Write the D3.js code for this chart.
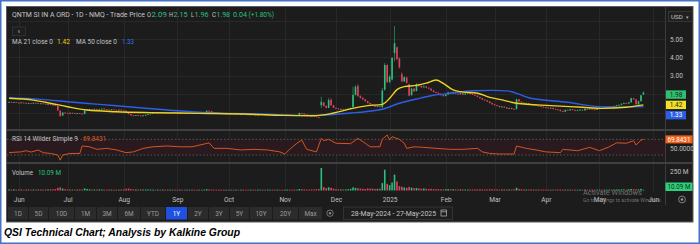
<!DOCTYPE html>
<html>
<head>
<meta charset="utf-8">
<title>QSI Technical Chart</title>
<style>
  body { margin: 0; background: #fff; }
  svg { display: block; font-family: Roboto, "Noto Sans", sans-serif; }
  .lbl { font-size: 6.6px; }
  .axis text { fill: #c0c0c0; font-size: 6.6px; font-family: Roboto, sans-serif; }
  .axis path, .axis line { display: none; }
  .btn text { fill: #9c9c9c; font-size: 6.4px; text-anchor: middle; }
</style>
</head>
<body>
<div id="chart"></div>
<script src="https://d3js.org/d3.v7.min.js"></script>
<script>
// daily candles, 28-May-2024 .. 27-May-2025 (trading-day index 0..260)
var opens = [
  1.56,1.58,1.55,1.57,1.54,1.52,1.55,1.53,1.51,1.52,
  1.50,1.53,1.51,1.49,1.50,1.48,1.46,1.47,1.43,1.40,
  1.36,1.10,0.84,1.00,0.98,0.96,0.99,0.97,0.95,0.97,
  0.94,0.93,1.12,1.15,1.18,1.16,1.20,1.17,1.19,1.22,
  1.18,1.16,1.14,1.17,1.15,1.13,1.16,1.12,1.10,1.02,
  0.92,0.85,0.83,0.86,0.84,0.82,0.85,0.88,0.93,0.95,
  0.97,0.96,0.98,0.97,0.99,0.97,0.96,0.98,1.00,0.98,
  0.97,0.99,0.98,0.96,0.97,0.99,0.98,0.97,0.96,0.98,
  0.97,0.99,1.10,1.08,1.03,1.00,0.98,0.97,0.96,0.95,
  0.96,0.94,0.95,0.93,0.94,0.92,0.93,0.91,0.90,0.88,
  0.90,0.89,0.87,0.89,0.91,0.90,0.88,0.89,0.90,0.88,
  0.87,0.89,0.88,0.86,0.87,0.89,0.88,0.86,0.85,0.87,
  0.98,0.95,0.90,0.86,0.84,0.83,0.80,0.76,1.40,1.55,
  1.36,1.26,1.70,1.40,1.26,1.22,1.18,1.20,1.17,1.19,
  1.21,1.30,1.96,2.45,1.90,1.80,1.72,1.62,1.52,1.45,
  1.38,1.32,1.35,1.30,2.25,3.59,2.66,2.80,4.24,4.55,
  3.95,3.10,2.70,2.90,2.55,1.95,2.30,2.18,2.55,2.45,
  2.38,2.42,2.35,2.30,2.20,2.12,2.08,2.02,1.95,1.90,
  1.98,2.10,2.05,2.12,2.03,2.00,2.06,1.98,2.04,2.08,
  2.01,1.97,1.92,1.85,1.78,1.70,1.66,1.60,1.52,1.45,
  1.40,1.36,1.30,1.33,1.28,1.22,1.25,1.20,1.19,1.72,
  1.60,1.55,1.50,1.52,1.46,1.42,1.45,1.38,1.36,1.32,
  1.30,1.27,1.24,1.26,1.20,1.17,1.15,1.08,1.05,1.15,
  1.12,1.18,1.14,1.10,1.13,1.16,1.12,1.20,1.18,1.22,
  1.17,1.15,1.19,1.24,1.21,1.26,1.30,1.33,1.30,1.36,
  1.40,1.42,1.48,1.52,1.50,1.56,1.78,1.72,1.45,1.62,2.09
];
var highs = [
  1.60,1.60,1.58,1.58,1.56,1.57,1.56,1.54,1.54,1.53,
  1.55,1.54,1.52,1.52,1.51,1.49,1.48,1.48,1.45,1.42,
  1.38,1.14,1.03,1.02,1.00,1.00,1.00,0.99,0.98,0.98,
  0.96,1.14,1.18,1.20,1.19,1.22,1.21,1.20,1.24,1.23,
  1.19,1.18,1.18,1.18,1.16,1.17,1.17,1.13,1.11,1.04,
  0.93,0.87,0.87,0.88,0.86,0.86,0.89,0.94,0.96,0.98,
  0.98,0.99,0.99,1.00,1.00,0.98,0.99,1.01,1.01,0.99,
  1.00,1.00,0.99,0.98,1.00,1.00,0.99,0.98,0.99,0.99,
  1.00,1.12,1.12,1.09,1.04,1.01,0.99,0.98,0.97,0.97,
  0.97,0.96,0.96,0.95,0.95,0.94,0.94,0.92,0.91,0.91,
  0.91,0.90,0.90,0.92,0.92,0.91,0.90,0.91,0.91,0.89,
  0.90,0.90,0.89,0.88,0.90,0.90,0.89,0.87,0.88,1.00,
  0.99,0.96,0.91,0.87,0.85,0.84,0.81,0.77,1.86,1.57,
  1.40,1.80,1.78,1.42,1.28,1.24,1.22,1.21,1.20,1.23,
  1.28,2.41,2.50,2.55,1.95,1.84,1.74,1.64,1.54,1.47,
  1.40,1.38,1.37,2.34,3.70,3.62,3.05,4.02,5.70,4.60,
  4.00,3.20,2.98,2.95,2.58,2.35,2.34,2.60,2.58,2.48,
  2.46,2.44,2.38,2.32,2.22,2.15,2.10,2.05,1.98,2.00,
  2.14,2.12,2.15,2.14,2.05,2.08,2.07,2.06,2.10,2.09,
  2.03,1.99,1.94,1.87,1.80,1.72,1.68,1.62,1.54,1.47,
  1.42,1.38,1.36,1.35,1.30,1.27,1.27,1.22,1.76,1.74,
  1.62,1.57,1.54,1.53,1.48,1.47,1.46,1.40,1.38,1.34,
  1.32,1.29,1.28,1.27,1.22,1.19,1.17,1.10,1.17,1.16,
  1.20,1.19,1.16,1.15,1.18,1.17,1.22,1.22,1.24,1.23,
  1.19,1.21,1.26,1.25,1.28,1.32,1.35,1.35,1.38,1.42,
  1.44,1.50,1.55,1.54,1.58,1.82,1.80,1.74,1.65,1.96,2.15
];
var lows = [
  1.54,1.53,1.53,1.52,1.50,1.51,1.51,1.49,1.49,1.48,
  1.48,1.49,1.47,1.47,1.46,1.44,1.44,1.41,1.38,1.36,
  1.10,0.76,0.82,0.96,0.94,0.94,0.95,0.93,0.93,0.92,
  0.91,0.91,1.10,1.13,1.14,1.14,1.15,1.15,1.17,1.16,
  1.14,1.12,1.12,1.13,1.11,1.11,1.10,1.08,1.00,0.90,
  0.82,0.80,0.81,0.82,0.80,0.80,0.83,0.86,0.91,0.93,
  0.94,0.94,0.95,0.95,0.95,0.94,0.94,0.96,0.96,0.95,
  0.95,0.96,0.94,0.94,0.95,0.96,0.95,0.94,0.94,0.95,
  0.95,0.97,1.05,1.01,0.98,0.96,0.95,0.94,0.93,0.93,
  0.92,0.92,0.91,0.91,0.90,0.90,0.89,0.88,0.86,0.86,
  0.87,0.85,0.85,0.87,0.88,0.86,0.86,0.87,0.86,0.85,
  0.85,0.86,0.84,0.84,0.85,0.86,0.84,0.83,0.84,0.85,
  0.93,0.88,0.84,0.82,0.81,0.78,0.74,0.70,1.25,1.33,
  1.23,1.24,1.36,1.24,1.19,1.16,1.16,1.15,1.15,1.17,
  1.19,1.28,1.92,1.85,1.76,1.68,1.58,1.49,1.42,1.35,
  1.29,1.29,1.27,1.26,2.18,2.60,2.60,2.75,3.80,3.85,
  3.40,2.65,2.66,2.58,1.88,1.92,2.12,2.15,2.40,2.34,
  2.36,2.32,2.27,2.17,2.09,2.05,1.99,1.92,1.86,1.88,
  1.96,2.02,2.02,2.00,1.97,1.98,1.96,1.96,2.02,1.99,
  1.95,1.90,1.83,1.76,1.68,1.64,1.58,1.50,1.43,1.38,
  1.34,1.28,1.28,1.26,1.20,1.20,1.18,1.14,1.17,1.58,
  1.53,1.48,1.48,1.44,1.40,1.40,1.36,1.34,1.30,1.28,
  1.25,1.22,1.22,1.18,1.15,1.13,1.06,1.03,1.04,1.10,
  1.10,1.12,1.08,1.09,1.11,1.10,1.11,1.16,1.16,1.15,
  1.13,1.14,1.18,1.19,1.20,1.24,1.28,1.28,1.29,1.34,
  1.38,1.40,1.46,1.48,1.48,1.54,1.70,1.43,1.44,1.60,1.96
];
var closes = [
  1.58,1.55,1.57,1.54,1.52,1.55,1.53,1.51,1.52,1.50,
  1.53,1.51,1.49,1.50,1.48,1.46,1.47,1.43,1.40,1.38,
  1.12,0.82,1.00,0.98,0.96,0.99,0.97,0.95,0.97,0.94,
  0.93,1.12,1.15,1.18,1.16,1.20,1.17,1.19,1.22,1.18,
  1.16,1.14,1.17,1.15,1.13,1.16,1.12,1.10,1.02,0.92,
  0.85,0.83,0.86,0.84,0.82,0.85,0.88,0.93,0.95,0.97,
  0.96,0.98,0.97,0.99,0.97,0.96,0.98,1.00,0.98,0.97,
  0.99,0.98,0.96,0.97,0.99,0.98,0.97,0.96,0.98,0.97,
  0.99,1.10,1.08,1.03,1.00,0.98,0.97,0.96,0.95,0.96,
  0.94,0.95,0.93,0.94,0.92,0.93,0.91,0.90,0.88,0.90,
  0.89,0.87,0.89,0.91,0.90,0.88,0.89,0.90,0.88,0.87,
  0.89,0.88,0.86,0.87,0.89,0.88,0.86,0.85,0.87,0.98,
  0.95,0.90,0.86,0.84,0.83,0.80,0.76,0.72,1.59,1.36,
  1.26,1.68,1.40,1.26,1.22,1.18,1.20,1.17,1.19,1.21,
  1.24,1.96,2.40,1.90,1.80,1.72,1.62,1.52,1.45,1.38,
  1.32,1.35,1.30,2.20,3.59,2.66,2.95,3.97,4.78,3.90,
  3.45,2.70,2.92,2.62,1.92,2.30,2.15,2.55,2.45,2.38,
  2.42,2.35,2.30,2.20,2.12,2.08,2.02,1.95,1.90,1.98,
  2.10,2.05,2.12,2.03,2.00,2.06,1.98,2.04,2.08,2.01,
  1.97,1.92,1.85,1.78,1.70,1.66,1.60,1.52,1.45,1.40,
  1.36,1.30,1.33,1.28,1.22,1.25,1.20,1.16,1.72,1.60,
  1.55,1.50,1.52,1.46,1.42,1.45,1.38,1.36,1.32,1.30,
  1.27,1.24,1.26,1.20,1.17,1.15,1.08,1.05,1.15,1.12,
  1.18,1.14,1.10,1.13,1.16,1.12,1.20,1.18,1.22,1.17,
  1.15,1.19,1.24,1.21,1.26,1.30,1.33,1.30,1.36,1.40,
  1.42,1.48,1.52,1.50,1.56,1.78,1.72,1.45,1.62,1.94,1.98
];
// volume in millions
var volumes = [
  14,12,15,11,13,12,10,14,12,11,
  13,12,15,11,12,14,13,16,15,18,
  35,42,25,18,14,12,13,11,12,14,
  12,28,20,16,13,14,12,15,13,12,
  11,13,12,10,12,11,13,14,22,26,
  18,15,14,13,15,12,14,13,12,11,
  10,12,11,13,10,12,11,10,12,11,
  10,11,12,10,11,12,10,11,10,12,
  11,18,14,12,10,11,10,12,11,10,
  11,10,12,10,11,10,12,11,10,12,
  11,10,12,11,10,11,12,10,11,10,
  12,11,10,11,12,10,11,12,10,20,
  16,14,13,12,15,14,16,18,300,45,
  30,42,36,24,18,15,14,13,14,16,
  22,42,35,30,26,22,20,28,24,26,
  20,22,24,98,276,88,72,106,211,120,
  58,50,40,35,48,38,30,34,28,24,
  26,22,20,22,18,16,18,15,14,16,
  18,15,16,14,13,15,14,13,12,14,
  13,15,14,16,15,13,14,16,15,13,
  14,12,13,15,12,14,13,14,36,20,
  16,14,13,12,14,11,12,13,11,12,
  11,12,10,12,11,13,14,12,11,12,
  10,11,12,10,11,10,12,11,10,12,
  11,10,12,11,10,12,13,11,12,14,
  13,15,14,12,16,20,18,15,14,22,10.09
];

// moving averages (trading-day index, value)
var ma21Day = [0,10,17,24,32,44,58,78,99,112,124,128,133,140,147,153,156,159,162,167,171,175,178,182,185,192,197,201,208,222,235,243,253,260];
var ma21Val = [1.78,1.68,1.51,1.32,1.14,1.05,1.00,0.96,0.91,0.85,0.83,0.86,0.98,1.20,1.38,1.45,1.78,2.25,2.41,2.48,2.60,2.77,2.59,2.23,2.14,2.05,1.83,1.72,1.51,1.38,1.29,1.23,1.29,1.42];
var ma50Day = [0,13,24,37,51,65,78,92,106,119,126,133,140,146,153,160,167,174,181,190,198,205,209,213,229,242,250,260];
var ma50Val = [1.81,1.72,1.59,1.45,1.29,1.14,1.02,0.96,0.91,0.85,0.85,0.90,0.98,1.05,1.18,1.51,1.74,1.94,2.05,2.19,2.21,2.17,2.00,1.81,1.56,1.32,1.30,1.33];

// RSI 14
var rsiDay = [0,2,5,7,9,12,14,17,20,21,22,25,29,30,33,36,40,44,48,51,55,59,65,70,75,80,82,84,89,95,100,106,111,113,115,118,120,122,126,128,129,131,134,140,143,146,148,152,153,155,156,157,160,162,163,166,170,175,181,186,192,194,197,201,207,208,212,216,220,226,227,233,238,242,246,249,253,256,257,259,260];
var rsiVal = [36,37,38,41,37.6,42.7,36,34,30,17,30,34,34,53,51,44.5,47,43,36,38,47,51,53,51,51,58,61,47,47,43,44.5,43,38,32.5,44.5,60,68,44.5,38,72.5,66.5,70,60,59,72.5,60,51,51,70,81,68,76.6,70,60,47,51,49.5,47,44.5,44.5,47,38,34,32.5,32.5,53,47,43,38,36,44.5,41,49.5,41,51,61,60,66.5,55.5,68,69.84];

var monthLabels = ["Jun","Jul","Aug","Sep","Oct","Nov","Dec","2025","Feb","Mar","Apr","May","Jun"];
var priceTicks = [3, 4, 5];
var priceGrid = [1, 2, 3, 4, 5, 6];
var buttonLabels = ["1D","5D","10D","1M","3M","6M","YTD","1Y","2Y","3Y","5Y","10Y","20Y","Max"];
var buttonEdges = [8,29,49,75,97,118,141,166,188,209,230,250,273,299,323];

var GREEN = "#2cc07c", RED = "#e5405e", LIGHT = "#c4c4c4";

// trading days (weekdays) from the first bar to the first June 2025 session
var days = d3.timeDay.range(new Date(2024, 4, 28), new Date(2025, 5, 3))
  .filter(function(d) { return d.getDay() > 0 && d.getDay() < 6; });
var monthIdx = [];
days.forEach(function(d, i) {
  if (i > 0 && d.getMonth() !== days[i - 1].getMonth()) monthIdx.push(i);
});

var svg = d3.select("#chart").append("svg").attr("width", 700).attr("height", 244);

// frame and panel
svg.append("rect").attr("x", 0.75).attr("y", 0.75).attr("width", 698.5).attr("height", 242.5)
  .attr("fill", "#fff").attr("stroke", "#4472c4").attr("stroke-width", 1.5);
svg.append("rect").attr("x", 6.5).attr("y", 6.5).attr("width", 686.5).attr("height", 215.5)
  .attr("fill", "#1c1c1c").attr("stroke", "#5a5a5a").attr("stroke-width", 1);

var plotL = 7, plotR = 665;
var mainTop = 7, mainBot = 129, rsiTop = 131, rsiBot = 162, volTop = 164, volBot = 191;

var x = d3.scaleLinear().domain([0, 260]).range([9, 643.4]);
var y = d3.scaleLinear().domain([0, 6.68]).range([131, 8.1]);
var yR = d3.scaleLinear().domain([0, 100]).range([166.8, 127.55]);
var yV = d3.scaleLinear().domain([0, 250]).range([190.5, 171.7]);

var defs = svg.append("defs");
[["clipMain", mainTop, mainBot], ["clipRsi", rsiTop, rsiBot], ["clipVol", volTop, volBot]].forEach(function(c) {
  defs.append("clipPath").attr("id", c[0]).append("rect")
    .attr("x", plotL).attr("y", c[1]).attr("width", plotR - plotL).attr("height", c[2] - c[1]);
});

// grid
var grid = svg.append("g").attr("stroke", "#282828").attr("stroke-width", 1);
[[mainTop, mainBot], [rsiTop, rsiBot], [volTop, volBot]].forEach(function(p) {
  grid.selectAll(null).data(monthIdx).enter().append("line")
    .attr("x1", function(d) { return Math.round(x(d)) + 0.5; })
    .attr("x2", function(d) { return Math.round(x(d)) + 0.5; })
    .attr("y1", p[0]).attr("y2", p[1]);
});
grid.selectAll(null).data(priceGrid).enter().append("line")
  .attr("x1", plotL).attr("x2", plotR)
  .attr("y1", function(d) { return Math.round(y(d)) + 0.5; })
  .attr("y2", function(d) { return Math.round(y(d)) + 0.5; });

// separators
svg.append("rect").attr("x", 7).attr("y", mainBot).attr("width", 686).attr("height", 2).attr("fill", "#404040");
svg.append("rect").attr("x", 7).attr("y", rsiBot).attr("width", 686).attr("height", 2).attr("fill", "#404040");
svg.append("line").attr("x1", plotR + 0.5).attr("x2", plotR + 0.5).attr("y1", 7).attr("y2", 205)
  .attr("stroke", "#3c3c3c");

// candles
function isUp(i) { return i === 0 ? closes[0] >= opens[0] : closes[i] >= closes[i - 1]; }
var idx = d3.range(closes.length);
var main = svg.append("g").attr("clip-path", "url(#clipMain)");
main.selectAll(".wick").data(idx).enter().append("line").attr("class", "wick")
  .attr("x1", function(i) { return x(i); }).attr("x2", function(i) { return x(i); })
  .attr("y1", function(i) { return y(highs[i]); }).attr("y2", function(i) { return y(lows[i]); })
  .attr("stroke", function(i) { return isUp(i) ? GREEN : RED; }).attr("stroke-width", 0.7)
  .attr("stroke-opacity", 0.8);
main.selectAll(".body").data(idx).enter().append("rect").attr("class", "body")
  .attr("x", function(i) { return x(i) - 0.8; }).attr("width", 1.6)
  .attr("y", function(i) { return y(Math.max(opens[i], closes[i])); })
  .attr("height", function(i) { return Math.max(0.8, Math.abs(y(opens[i]) - y(closes[i]))); })
  .attr("fill", function(i) { return isUp(i) ? GREEN : RED; });

// moving averages
var maLine = d3.line().curve(d3.curveMonotoneX);
main.append("path").datum(ma50Day.map(function(d, i) { return [x(d), y(ma50Val[i])]; }))
  .attr("d", maLine).attr("fill", "none").attr("stroke", "#2b5fe6").attr("stroke-width", 1.4);
main.append("path").datum(ma21Day.map(function(d, i) { return [x(d), y(ma21Val[i])]; }))
  .attr("d", maLine).attr("fill", "none").attr("stroke", "#eed21f").attr("stroke-width", 1.4);

// RSI pane
var rsi = svg.append("g").attr("clip-path", "url(#clipRsi)");
rsi.append("rect").attr("x", plotL).attr("width", plotR - plotL)
  .attr("y", yR(70)).attr("height", yR(30) - yR(70)).attr("fill", "#2a1a20");
[70, 30].forEach(function(v) {
  rsi.append("line").attr("x1", plotL).attr("x2", plotR).attr("y1", yR(v)).attr("y2", yR(v))
    .attr("stroke", "#6e6e6e").attr("stroke-width", 0.7).attr("stroke-dasharray", "1.5,2");
});
rsi.append("path").datum(rsiDay.map(function(d, i) { return [x(d), yR(rsiVal[i])]; }))
  .attr("d", d3.line()).attr("fill", "none").attr("stroke", "#d2561f").attr("stroke-width", 1);

// volume pane
var vol = svg.append("g").attr("clip-path", "url(#clipVol)");
vol.selectAll("rect").data(idx).enter().append("rect")
  .attr("x", function(i) { return x(i) - 0.8; }).attr("width", 1.6)
  .attr("y", function(i) { return Math.min(yV(volumes[i]), yV(0) - 0.8); })
  .attr("height", function(i) { return Math.max(0.8, yV(0) - yV(volumes[i])); })
  .attr("fill", function(i) { return isUp(i) ? GREEN : RED; });

// axes
svg.append("g").attr("class", "axis").attr("transform", "translate(0,194.5)")
  .call(d3.axisBottom(x).tickValues(monthIdx).tickSize(0)
    .tickFormat(function(d, i) { return monthLabels[i]; }));
svg.append("g").attr("class", "axis").attr("transform", "translate(" + plotR + ",0)")
  .call(d3.axisRight(y).tickValues(priceTicks).tickSize(0).tickPadding(5).tickFormat(d3.format(".2f")));
svg.append("g").attr("class", "axis").attr("transform", "translate(" + plotR + ",0.8)")
  .call(d3.axisRight(yR).tickValues([50]).tickSize(0).tickPadding(5).tickFormat(d3.format(".4f")));
svg.append("g").attr("class", "axis").attr("transform", "translate(" + plotR + ",0)")
  .call(d3.axisRight(yV).tickValues([250]).tickSize(0).tickPadding(5).tickFormat(function(d) { return d + " M"; }));

// last value tags on the price axis
var tags = [
  { v: closes[closes.length - 1], bg: "#2fbf71", fg: "#0f2a1a" },
  { v: ma21Val[ma21Val.length - 1], bg: "#f2e024", fg: "#222" },
  { v: ma50Val[ma50Val.length - 1], bg: "#2a5ee8", fg: "#fff" }
];
var lastY = -100;
tags.forEach(function(t) {
  var ty = Math.max(y(t.v), lastY + 10.3);
  lastY = ty;
  svg.append("rect").attr("x", 666).attr("y", ty - 4.2).attr("width", 20).attr("height", 8.4).attr("fill", t.bg);
  svg.append("text").attr("x", 676).attr("y", ty + 2.3).attr("text-anchor", "middle")
    .attr("font-size", 6.4).attr("fill", t.fg).text(t.v.toFixed(2));
});
var rsiLast = rsiVal[rsiVal.length - 1];
svg.append("rect").attr("x", 665.5).attr("y", yR(rsiLast) - 4).attr("width", 27).attr("height", 8).attr("fill", "#f2611c");
svg.append("text").attr("x", 679).attr("y", yR(rsiLast) + 2.2).attr("text-anchor", "middle")
  .attr("font-size", 6.3).attr("fill", "#fff").text("69.8431");
svg.append("rect").attr("x", 665.5).attr("y", 182.5).attr("width", 27).attr("height", 8.5).attr("fill", "#2fd07d");
svg.append("text").attr("x", 679).attr("y", 189).attr("text-anchor", "middle")
  .attr("font-size", 6.3).attr("fill", "#10301c").text("10.09 M");

// USD selector
svg.append("rect").attr("x", 668.5).attr("y", 11.5).attr("width", 24).attr("height", 10)
  .attr("fill", "#202020").attr("stroke", "#3c3c3c").attr("stroke-width", 0.8);
svg.append("text").attr("x", 671).attr("y", 18.7).attr("font-size", 6.2).attr("fill", "#c8c8c8").text("USD");
svg.append("text").attr("x", 686).attr("y", 18.5).attr("font-size", 5).attr("fill", "#aaa").text("\u25be");

// legend rows: [text, left, right, colour]
function legendRow(yy, parts) {
  parts.forEach(function(p) {
    svg.append("text").attr("class", "lbl").attr("x", p[1]).attr("y", yy)
      .attr("textLength", p[2] - p[1]).attr("lengthAdjust", "spacingAndGlyphs")
      .attr("fill", p[3] || LIGHT).text(p[0]);
  });
}
legendRow(17.4, [
  ["QNTM SI IN A ORD - 1D - NMQ - Trade Price", 12, 145],
  ["O", 147, 151], ["2.09", 151.5, 167, GREEN],
  ["H", 169, 173], ["2.15", 173.5, 187.5, GREEN],
  ["L", 191, 194], ["1.96", 194.5, 208.5, GREEN],
  ["C", 212, 216], ["1.98", 216.5, 230, GREEN],
  ["0.04", 233, 247, GREEN], ["(+1.80%)", 248.5, 274, GREEN]
]);
legendRow(44.4, [
  ["MA 21 close 0", 12, 53], ["1.42", 57, 70, "#eed21f"],
  ["MA 50 close 0", 76, 117], ["1.33", 122, 134, "#3b6cf0"]
]);
legendRow(140.6, [["RSI 14 Wilder Simple 9", 12, 78], ["69.8431", 83, 106, "#e0591f"]]);
legendRow(175, [["Volume", 12, 33], ["10.09 M", 38, 61, GREEN]]);

svg.append("rect").attr("x", 12.5).attr("y", 27).attr("width", 13).attr("height", 8.5)
  .attr("fill", "#1e1e1e").attr("stroke", "#363636").attr("stroke-width", 0.8);
svg.append("text").attr("x", 19).attr("y", 33.5).attr("text-anchor", "middle")
  .attr("font-size", 7.5).attr("fill", "#ccc").text("\u2039");

// range buttons
var btn = svg.append("g").attr("class", "btn");
buttonLabels.forEach(function(b, i) {
  var x0 = buttonEdges[i], x1 = buttonEdges[i + 1] - 1;
  btn.append("rect").attr("x", x0).attr("y", 207).attr("width", x1 - x0).attr("height", 12.5)
    .attr("fill", b === "1Y" ? "#1f50e0" : "#2b2b2b");
  btn.append("text").attr("x", (x0 + x1) / 2).attr("y", 215.5)
    .style("fill", b === "1Y" ? "#fff" : null).text(b);
});
svg.append("circle").attr("cx", 330).attr("cy", 213.2).attr("r", 3.2)
  .attr("fill", "none").attr("stroke", "#888").attr("stroke-width", 0.8);
svg.append("circle").attr("cx", 330).attr("cy", 213.2).attr("r", 1.2).attr("fill", "#888");

svg.append("rect").attr("x", 343.5).attr("y", 207).attr("width", 109).attr("height", 12.5)
  .attr("fill", "#1e1e1e").attr("stroke", "#3a3a3a").attr("stroke-width", 0.8);
svg.append("text").attr("x", 351).attr("y", 215.5).attr("font-size", 6.4).attr("fill", "#c4c4c4")
  .attr("textLength", 85).attr("lengthAdjust", "spacingAndGlyphs")
  .text("28-May-2024  -  27-May-2025");
svg.append("rect").attr("x", 441).attr("y", 210).attr("width", 5.5).attr("height", 6)
  .attr("fill", "none").attr("stroke", "#bbb").attr("stroke-width", 0.7);
svg.append("line").attr("x1", 441).attr("x2", 446.5).attr("y1", 211.8).attr("y2", 211.8)
  .attr("stroke", "#bbb").attr("stroke-width", 0.7);

svg.append("circle").attr("cx", 682).attr("cy", 199.5).attr("r", 3.4)
  .attr("fill", "none").attr("stroke", "#999").attr("stroke-width", 0.8);
svg.append("circle").attr("cx", 682).attr("cy", 199.5).attr("r", 1.3).attr("fill", "#999");

// windows watermark (sits over the axis, as in the screenshot)
svg.append("text").attr("x", 583).attr("y", 195).attr("font-size", 7.4)
  .attr("fill", "#8a8a8a").attr("fill-opacity", 0.8).text("Activate Windows");
svg.append("text").attr("x", 583).attr("y", 202.3).attr("font-size", 5)
  .attr("fill", "#8a8a8a").attr("fill-opacity", 0.8).text("Go to Settings to activate Windows.");

// caption
svg.append("text").attr("x", 4).attr("y", 235.5)
  .attr("font-family", "'Liberation Sans', Arial, sans-serif")
  .attr("font-size", 10.5).attr("font-weight", "bold").attr("font-style", "italic")
  .attr("textLength", 236).attr("lengthAdjust", "spacingAndGlyphs")
  .attr("fill", "#000").text("QSI Technical Chart; Analysis by Kalkine Group");
</script>
</body>
</html>
